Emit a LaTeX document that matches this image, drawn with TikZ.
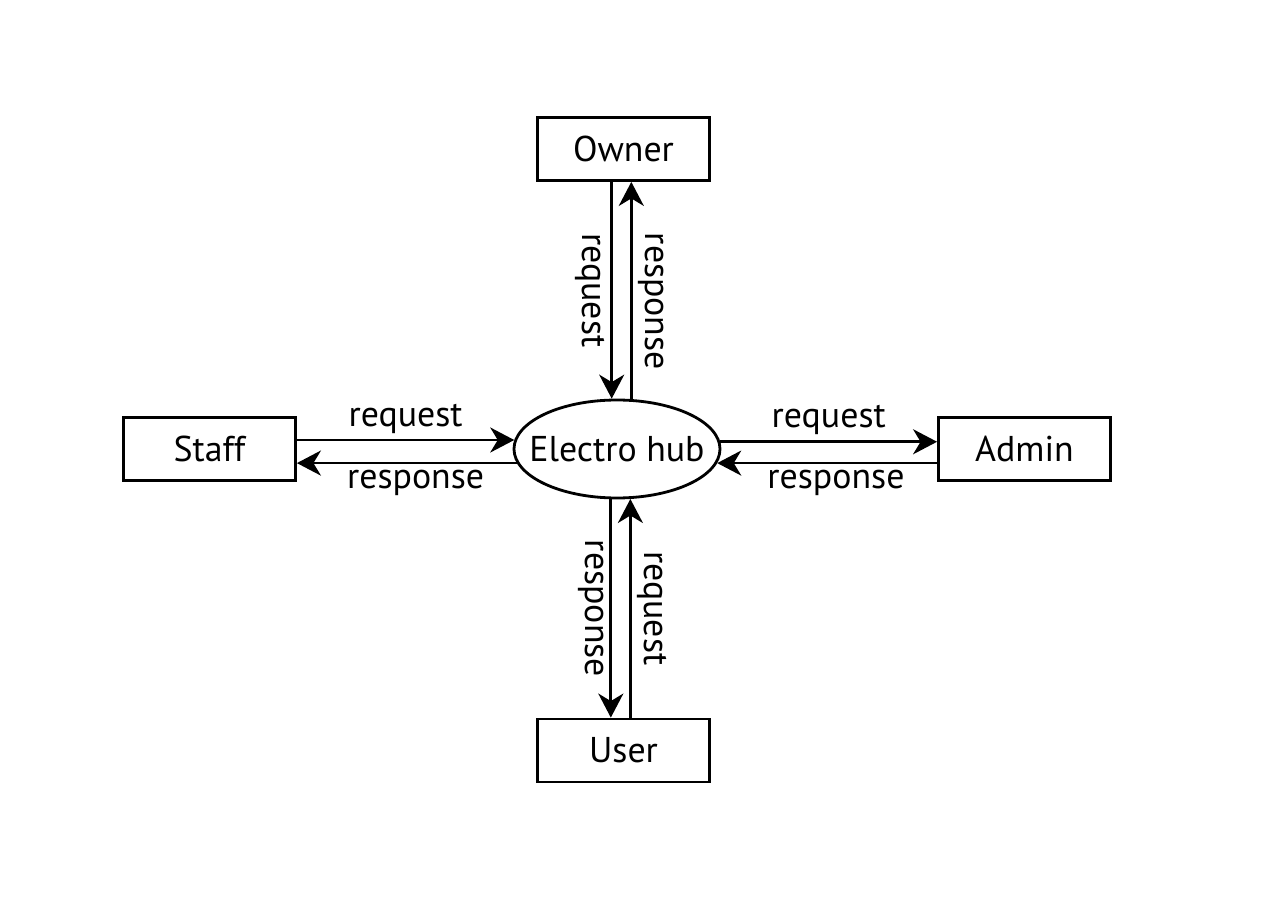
\documentclass[tikz,border=0pt]{standalone}
\usepackage{fontspec}
\setmainfont{PT Sans}
\usetikzlibrary{arrows.meta,shapes.geometric}

\begin{document}
\begin{tikzpicture}[
  font=\fontsize{20.4}{22}\selectfont,
  entity/.style={draw=black,fill=white,minimum width=34.4mm,minimum height=12.6mm,
    align=center,line width=1.6pt},
  process/.style={draw=black,ellipse,minimum width=41.2mm,minimum height=19.6mm,
    inner xsep=-4mm,inner ysep=0pt,line width=1.6pt},
  flow/.style={-{Stealth[length=4.8mm,width=5mm,inset=1.5mm]},draw=black,line width=1.6pt},
  edge/.style={inner sep=3pt},
  vedge/.style={inner sep=3pt,rotate=-90}
]
  \useasboundingbox (-12.34,8.98) rectangle (13.26,-9.38);

  \node[process] (hub) at (0,0) {Electro hub};
  \node[entity] (owner) at (0.13,6.0) {Owner};
  \node[entity] (staff) at (-8.15,0) {Staff};
  \node[entity] (admin) at (8.15,0) {Admin};
  \node[entity] (user) at (0.13,-6.03) {User};

  \draw[flow] (hub.96.9 |- owner.south) -- node[vedge,anchor=north] {request} (hub.96.9);
  \draw[flow] (hub.74.2) -- node[vedge,anchor=south,pos=.45] {response} (hub.74.2 |- owner.south);

  \draw[flow] (hub.175.8 -| staff.east) -- node[edge,above] {request} (hub.175.8);
  \draw[flow] (hub.188.3) -- node[edge,below,pos=.46] {response} (hub.188.3 -| staff.east);

  \draw[flow] (hub.4.2) -- node[edge,above] {request} (hub.4.2 -| admin.west);
  \draw[flow] (hub.-8.3 -| admin.west) -- node[edge,below,pos=.46] {response} (hub.-8.3);

  \draw[flow] (hub.263.1) -- node[vedge,anchor=north] {response} (hub.263.1 |- user.north);
  \draw[flow] (hub.285.8 |- user.north) -- node[vedge,anchor=south] {request} (hub.285.8);
\end{tikzpicture}
\end{document}
